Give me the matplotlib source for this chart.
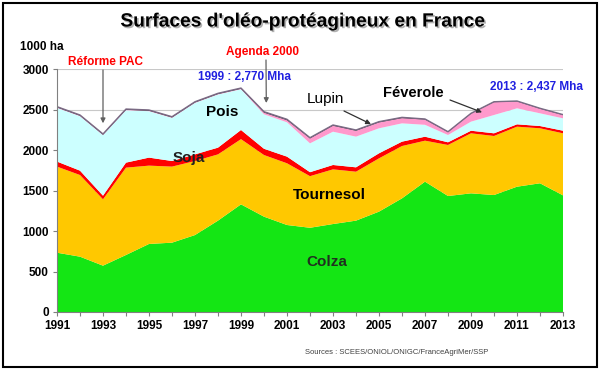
import matplotlib
matplotlib.use("Agg")
import matplotlib.pyplot as plt
import matplotlib.patheffects as pe
import numpy as np

years = list(range(1991, 2014))
colza = [732, 683, 572, 704, 840, 856, 950, 1128, 1329, 1177, 1074, 1040, 1086, 1128, 1239, 1403, 1609, 1432, 1465, 1444, 1547, 1589, 1440]
tournesol = [1063, 1008, 819, 1078, 967, 939, 914, 818, 805, 761, 762, 637, 675, 604, 658, 646, 506, 630, 741, 729, 741, 679, 766]
soja = [62, 54, 45, 62, 99, 69, 82, 83, 113, 77, 82, 49, 54, 54, 62, 54, 49, 33, 32, 33, 29, 28, 32]
pois = [663, 672, 747, 647, 573, 532, 635, 656, 503, 426, 424, 356, 411, 379, 309, 226, 147, 90, 112, 226, 198, 157, 153]
feverole = [5, 5, 5, 5, 5, 5, 5, 5, 5, 20, 25, 60, 73, 72, 72, 64, 64, 35, 97, 158, 84, 56, 40]
lupin = [10, 10, 10, 10, 10, 10, 10, 10, 10, 12, 12, 10, 10, 10, 10, 10, 8, 6, 6, 6, 6, 6, 6]

series_names = ["Colza", "Tournesol", "Soja", "Pois", "Féverole", "Lupin"]
colors = ["#14E614", "#FFC800", "#FF0000", "#CCFFFF", "#FF99CC", "#3A2A3A"]

W, H = 600, 370
fig = plt.figure(figsize=(6, 3.7), dpi=100)
plt.rcParams['font.family'] = ['Liberation Sans', 'DejaVu Sans']

ax = fig.add_axes([57 / W, 1 - 312 / H, (563 - 57) / W, (312 - 69) / H])
ax.set_axisbelow(True)
ax.yaxis.grid(True, color="#C8C8C8", lw=0.8)
ax.stackplot(years, colza, tournesol, soja, pois, feverole, lupin, colors=colors, lw=0)
total = np.sum([colza, tournesol, soja, pois, feverole, lupin], axis=0)
ax.plot(years, total, color="#7A6A84", lw=1.0)

ax.set_xlim(1991, 2013)
ax.set_ylim(0, 3000)
ax.set_yticks(range(0, 3001, 500))
ax.set_xticks(years, minor=True)
ax.set_xticks(range(1991, 2014, 2))
for s in ["top", "right"]:
    ax.spines[s].set_visible(False)
for s in ["left", "bottom"]:
    ax.spines[s].set_color("#808080")
ax.tick_params(axis="both", which="both", color="#808080", length=3, width=0.8)
ax.tick_params(axis="both", labelsize=8.5, pad=3)
for lab in ax.get_xticklabels() + ax.get_yticklabels():
    lab.set_fontweight("bold")

def fpos(x, y):
    return (x / W, 1 - y / H)

fig.text(*fpos(302, 22), "Surfaces d'oléo-protéagineux en France", ha="center", va="center",
         fontsize=13.8, fontweight="bold",
         path_effects=[pe.withSimplePatchShadow(offset=(1.2, -1.2), shadow_rgbFace="#909090", alpha=0.7)])
fig.text(*fpos(20, 47), "1000 ha", ha="left", va="center", fontsize=8.5, fontweight="bold")
fig.text(*fpos(105, 62), "Réforme PAC", ha="center", va="center", fontsize=8.5, fontweight="bold", color="#FF0000")
fig.text(*fpos(263, 52), "Agenda 2000", ha="center", va="center", fontsize=8.5, fontweight="bold", color="#FF0000")
fig.text(*fpos(244, 77), "1999 : 2,770 Mha", ha="center", va="center", fontsize=8.5, fontweight="bold", color="#2020E0")
fig.text(*fpos(536, 87), "2013 : 2,437 Mha", ha="center", va="center", fontsize=8.5, fontweight="bold", color="#2020E0")
fig.text(*fpos(222, 112), "Pois", ha="center", va="center", fontsize=11, fontweight="semibold")
fig.text(*fpos(189, 158), "Soja", ha="center", va="center", fontsize=11, fontweight="bold", color="#202020")
fig.text(*fpos(329, 195), "Tournesol", ha="center", va="center", fontsize=11, fontweight="semibold")
fig.text(*fpos(327, 262), "Colza", ha="center", va="center", fontsize=11, fontweight="bold", color="#203020")
fig.text(*fpos(325, 99), "Lupin", ha="center", va="center", fontsize=11)
fig.text(*fpos(413, 93), "Féverole", ha="center", va="center", fontsize=10.5, fontweight="semibold")
fig.text(*fpos(397, 352), "Sources : SCEES/ONIOL/ONIGC/FranceAgriMer/SSP", ha="center", va="center",
         fontsize=5.5, color="#404040")

def arrow(x0, y0, xd, yd, color="#606060"):
    ax.annotate("", xy=(xd, yd), xycoords="data", xytext=(x0, H - y0), textcoords="figure pixels",
                arrowprops=dict(arrowstyle="-|>", color=color, lw=0.9, mutation_scale=7, shrinkA=0, shrinkB=0),
                annotation_clip=False)

arrow(103, 70, 1993, 2330)
arrow(266, 60, 2000.1, 2580)
arrow(344, 111, 2004.65, 2320, color="#303030")
arrow(450, 100, 2009.48, 2465, color="#303030")

border = plt.Rectangle((3 / W, 3 / H), 594 / W, 364 / H, transform=fig.transFigure, fill=False,
                       ec="black", lw=1.5)
fig.patches.append(border)

fig.savefig("out.png", dpi=100)
